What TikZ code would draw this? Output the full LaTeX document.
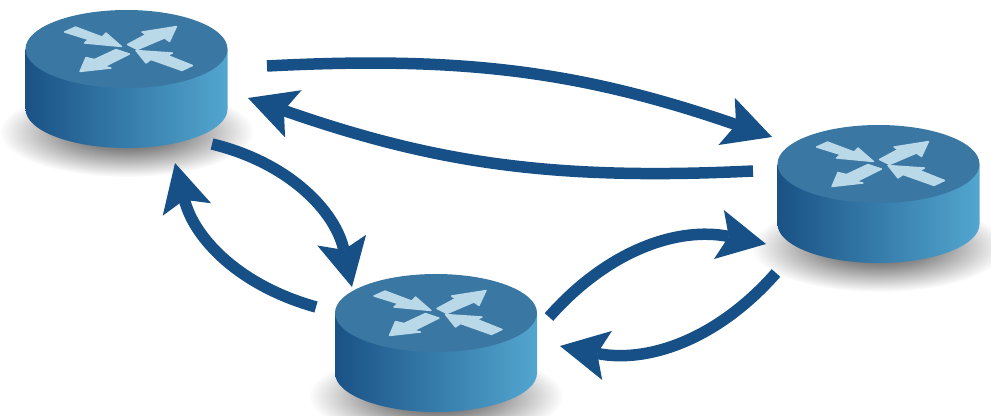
\documentclass[tikz,border=0pt]{standalone}
\usetikzlibrary{arrows.meta}
\definecolor{flowblue}{HTML}{175087}
\definecolor{routertop}{HTML}{3A77A3}
\definecolor{routerleft}{HTML}{1A5285}
\definecolor{routermid}{HTML}{3A7BA8}
\definecolor{routerright}{HTML}{52A6CF}
\definecolor{routermark}{HTML}{B9D8E8}
\pgfdeclareradialshading{routershadow}{\pgfpoint{0bp}{0bp}}{
  color(0bp)=(black!75); color(11bp)=(black!45); color(25bp)=(white); color(50bp)=(white)}
\tikzset{
  flow/.style={line width=0.23cm, draw=flowblue, line cap=butt,
    -{Stealth[length=0.96cm, width=1.0cm, inset=0.2cm, line width=0pt]}},
  routermarkfill/.style={fill=routermark, draw=routermark, line width=0.8pt, line join=round},
  router/.pic={
    \shade[shading=routershadow] (0,-1.66) ellipse (2.55 and 0.9);
    \shade[left color=routerleft, middle color=routermid, right color=routerright]
      (-2.02,0) -- (-2.02,-1.2) arc (180:360:2.02 and 0.78) -- (2.02,0) -- cycle;
    \fill[routertop] (0,0) ellipse (2.02 and 0.78);
    \path[routermarkfill] (-1.24,.34) -- (-1.02,.44) -- (-.49,.24) -- (-.41,.32) -- (-.10,.05) -- (-.84,.12) -- (-.76,.19) -- cycle;
    \path[routermarkfill] (.02,.09) -- (.39,.29) -- (.31,.34) -- (1.00,.45) -- (.86,.15) -- (.76,.22) -- (.22,-.01) -- cycle;
    \path[routermarkfill] (-.21,-.01) -- (-.64,-.21) -- (-.81,-.17) -- (-.93,-.45) -- (-.31,-.38) -- (-.44,-.35) -- (.06,-.10) -- cycle;
    \path[routermarkfill] (1.32,-.33) -- (1.11,-.43) -- (.49,-.21) -- (.39,-.28) -- (.19,-.03) -- (.92,-.08) -- (.82,-.13) -- cycle;
  },
}
\begin{document}
\begin{tikzpicture}
\useasboundingbox (0,0) rectangle (19.82,8.30);
\pic (routerA) at (2.53,7.32) {router};
\pic (routerB) at (17.57,5.02) {router};
\pic (routerC) at (8.72,2.04) {router};
\coordinate (abstart) at (5.34,6.98);
\coordinate (abend) at (15.44,5.56);
\coordinate (bastart) at (15.06,4.88);
\coordinate (baend) at (4.96,6.34);
\coordinate (acstart) at (4.24,5.42);
\coordinate (acend) at (7.04,2.56);
\coordinate (castart) at (6.32,2.16);
\coordinate (caend) at (3.50,5.04);
\coordinate (cbstart) at (10.98,1.96);
\coordinate (cbend) at (15.32,3.42);
\coordinate (bcstart) at (15.52,2.84);
\coordinate (bcend) at (11.20,1.38);
\draw[flow] (abstart) to[bend left=11] (abend);
\draw[flow] (bastart) to[bend left=11] (baend);
\draw[flow] (acstart) to[bend left=32] (acend);
\draw[flow] (castart) to[bend left=30] (caend);
\draw[flow] (cbstart) to[bend left=30] (cbend);
\draw[flow] (bcstart) to[bend left=30] (bcend);
\end{tikzpicture}
\end{document}
